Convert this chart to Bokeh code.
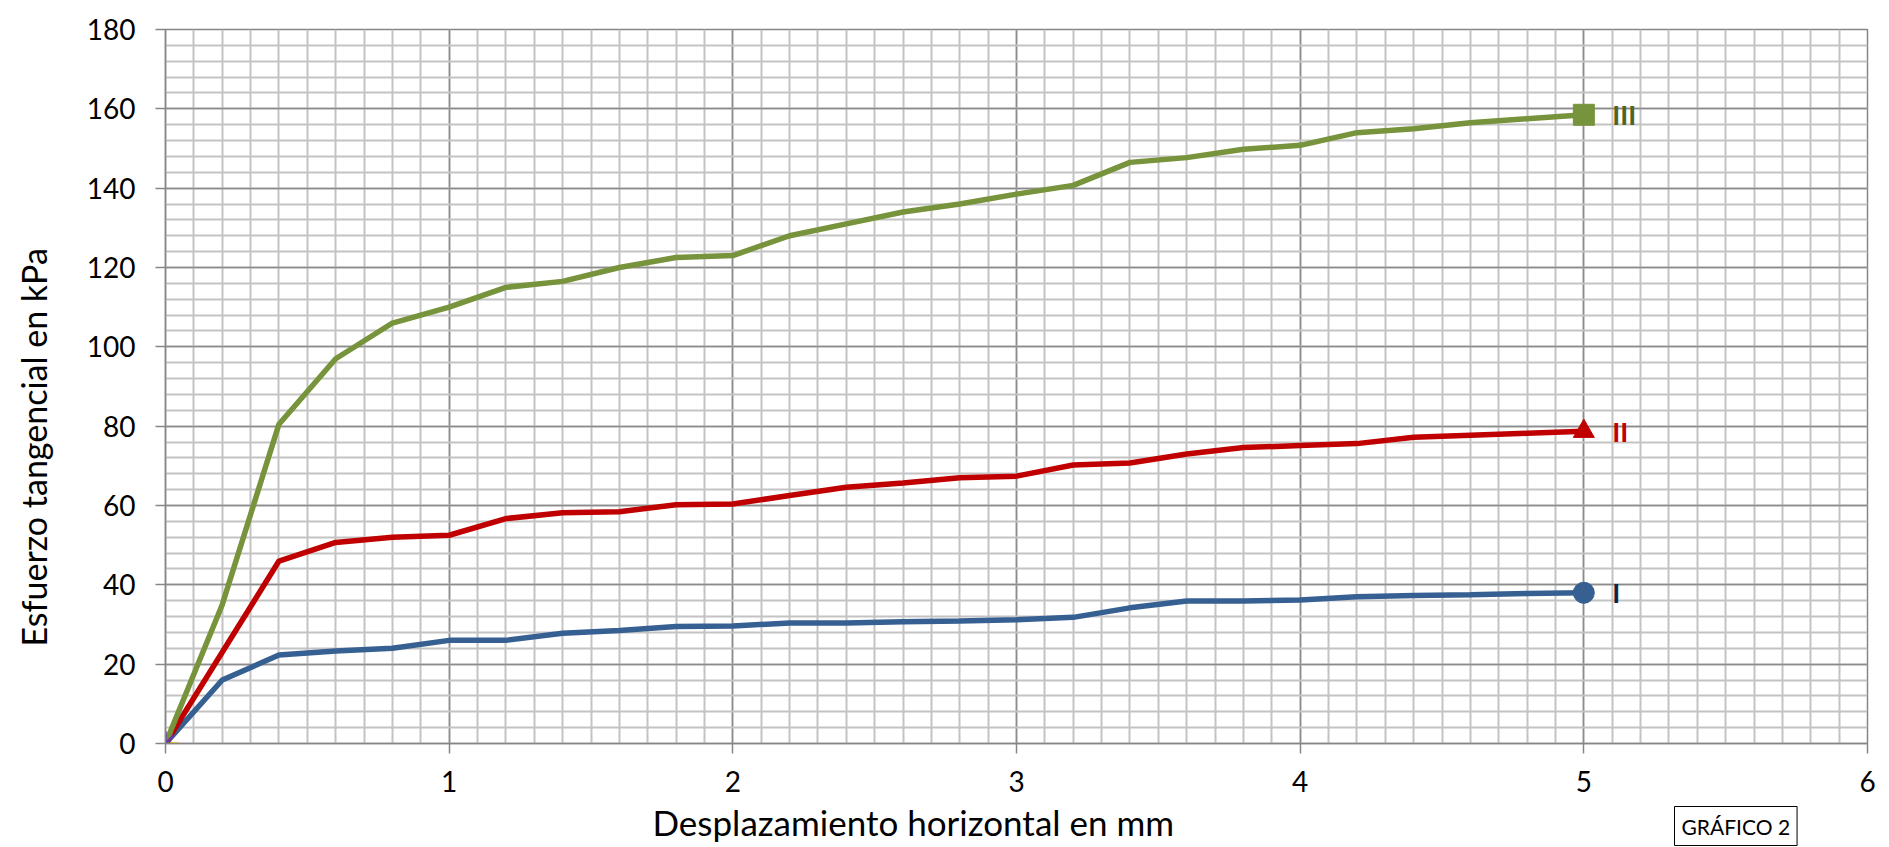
import math
from bokeh.plotting import figure
from bokeh.models import Title, SingleIntervalTicker
from bokeh.core.properties import value
from bokeh.embed import file_html
from bokeh.resources import INLINE

# ---- data ----
desplazamiento = [0, 0.2, 0.4, 0.6, 0.8, 1.0, 1.2, 1.4, 1.6, 1.8, 2.0, 2.2, 2.4,
                  2.6, 2.8, 3.0, 3.2, 3.4, 3.6, 3.8, 4.0, 4.2, 4.4, 4.6, 4.8, 5.0]
serie_I = [0, 16, 22.3, 23.3, 24, 26, 26, 27.8, 28.5, 29.5, 29.6, 30.4, 30.4,
           30.7, 30.9, 31.2, 31.8, 34.2, 35.9, 35.9, 36.2, 37.0, 37.3, 37.5, 37.8, 38]
serie_II = [0, 23, 46, 50.7, 52, 52.5, 56.7, 58.2, 58.4, 60.2, 60.4, 62.5, 64.6,
            65.7, 67, 67.4, 70.2, 70.7, 73, 74.6, 75.1, 75.6, 77.2, 77.7, 78.2, 78.7]
serie_III = [0, 35, 80.5, 97, 106, 110, 115, 116.5, 120, 122.5, 123, 128, 131,
             134, 136, 138.5, 140.7, 146.5, 147.7, 149.8, 150.8, 154, 155, 156.5, 157.5, 158.5]
nombres = ["I", "II", "III"]
origen_x = [0]
origen_y = [0]

FONT = "Lato"

p = figure(width=1889, height=847, output_backend="svg", toolbar_location=None,
           x_range=(0, 6), y_range=(0, 180),
           min_border_left=165, min_border_right=22, min_border_top=29, min_border_bottom=104)
p.background_fill_color = "white"
p.border_fill_color = "white"
p.outline_line_color = "#868686"
p.outline_line_width = 1.5

p.xaxis.ticker = SingleIntervalTicker(interval=1, num_minor_ticks=10)
p.yaxis.ticker = SingleIntervalTicker(interval=20, num_minor_ticks=5)

for ax in (p.xaxis, p.yaxis):
    ax.axis_line_color = "#868686"
    ax.axis_line_width = 1.5
    ax.major_tick_line_color = "#868686"
    ax.major_tick_line_width = 1.5
    ax.major_tick_out = 10
    ax.major_tick_in = 0
    ax.minor_tick_line_color = None
    ax.major_label_text_font = FONT
    ax.major_label_text_font_size = "28px"
    ax.major_label_text_color = "black"
p.xaxis.major_label_standoff = 17
p.yaxis.major_label_standoff = 20

p.xgrid.grid_line_color = "#8C8C8C"
p.ygrid.grid_line_color = "#8C8C8C"
p.xgrid.grid_line_width = 1.5
p.ygrid.grid_line_width = 1.5
p.xgrid.minor_grid_line_color = "#C3C3C3"
p.ygrid.minor_grid_line_color = "#C3C3C3"
p.xgrid.minor_grid_line_width = 2
p.ygrid.minor_grid_line_width = 2

colores = ["#376092", "#C00000", "#77933C"]
colores_txt = ["#10253F", "#C00000", "#4F6228"]
marcadores = ["circle", "triangle", "square"]
series = [serie_I, serie_II, serie_III]

# origin marker (under the lines)
p.scatter(origen_x, origen_y, marker="diamond", size=20, fill_color="#A6A6A6", line_color="#A6A6A6")
p.scatter(origen_x, origen_y, marker="dash", size=26, line_color="#FFC000", line_width=2.5)

for ys, c, m in zip(series, colores, marcadores):
    p.line(desplazamiento, ys, line_color=c, line_width=5.5)
    p.scatter([desplazamiento[-1]], [ys[-1]], marker=m, size=21,
              fill_color=c, line_color=c)

p.scatter(origen_x, origen_y, marker="x", size=24, line_color="#7030A0", line_width=2.5)
p.scatter(origen_x, origen_y, marker="dash", size=24, angle=math.pi / 2,
          line_color="#7030A0", line_width=2.5)

for ys, name, c in zip(series, nombres, colores_txt):
    p.text([desplazamiento[-1] + 0.1], [ys[-1]], text=[name],
           text_font=value(FONT), text_font_style="bold", text_font_size="27px",
           text_color=c, text_align="left", text_baseline="middle")

# spacer between y axis and its title
p.add_layout(Title(text=" ", text_font_size="1px", standoff=25), "left")
p.add_layout(Title(text="Esfuerzo tangencial en kPa", align="left", offset=97,
                   vertical_align="top", standoff=0,
                   text_font=FONT, text_font_size="34px", text_font_style="normal",
                   text_color="black"), "left")
p.add_layout(Title(text="Desplazamiento horizontal en mm", align="left", offset=487,
                   vertical_align="bottom", standoff=8,
                   text_font=FONT, text_font_size="35px", text_font_style="normal",
                   text_color="black"), "below")
p.add_layout(Title(text="GRÁFICO 2", align="left", offset=1509,
                   vertical_align="top", standoff=-80,
                   text_font=FONT, text_font_size="21px", text_font_style="normal",
                   text_color="black", border_line_color="black", border_line_width=1,
                   background_fill_color="white", padding=7), "below")

open("out.html", "w").write(file_html(p, INLINE))
